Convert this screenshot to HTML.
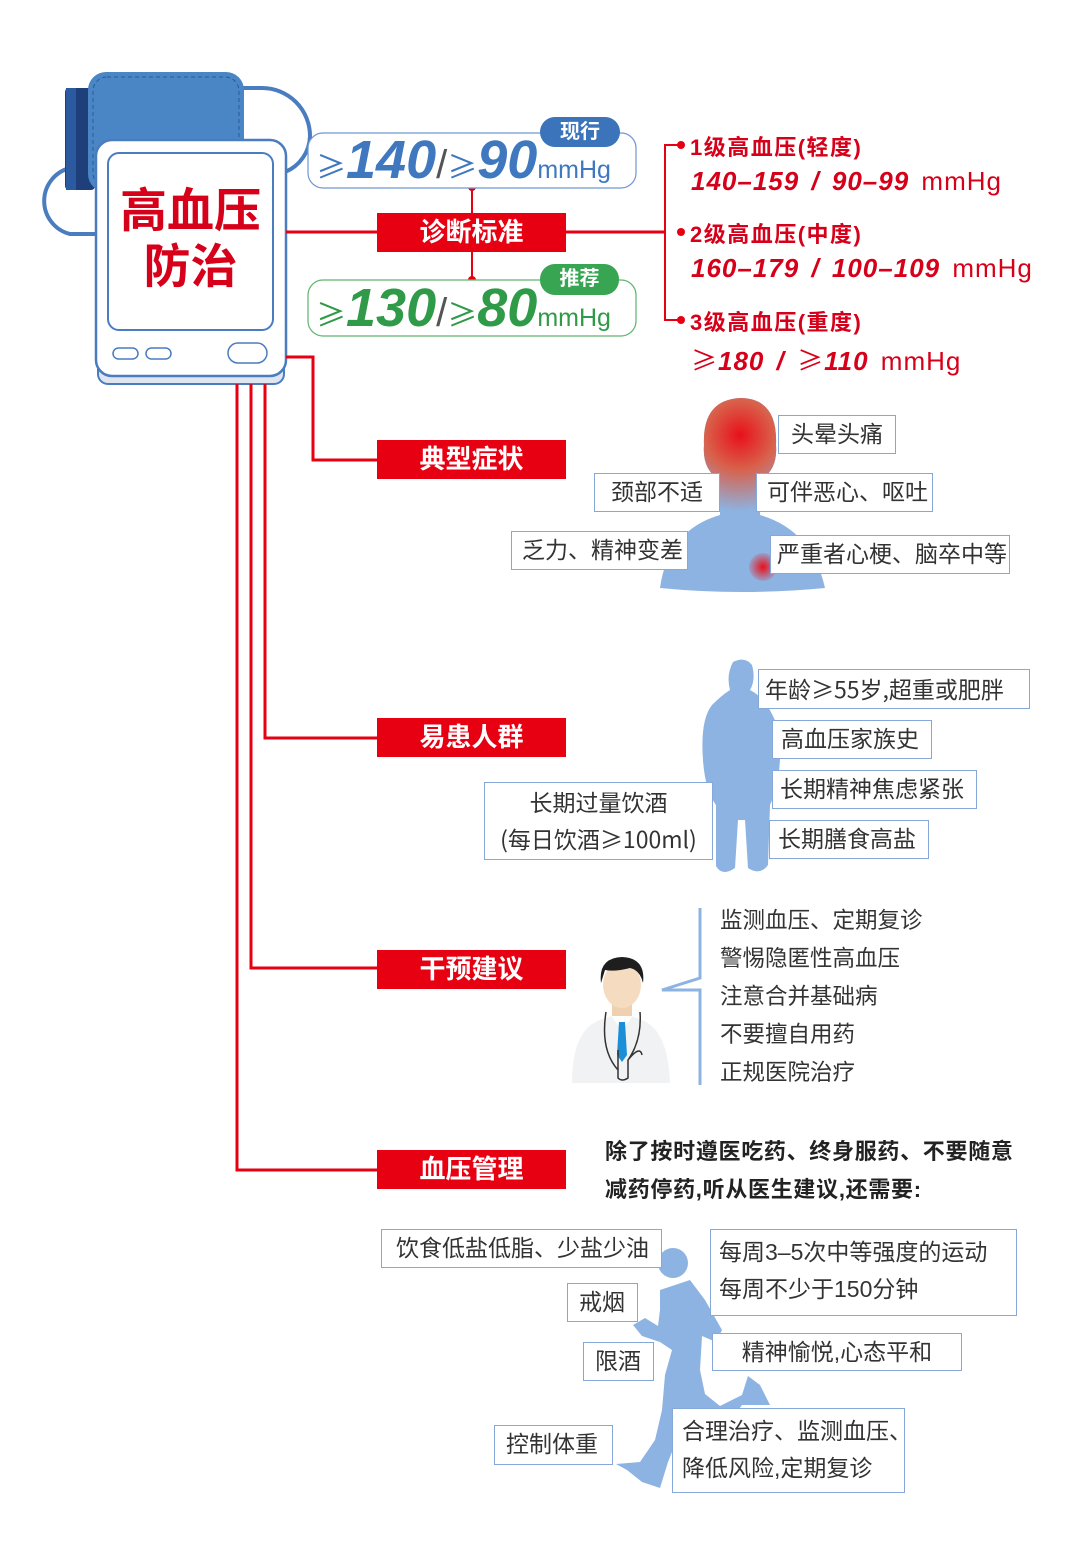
<!DOCTYPE html>
<html><head><meta charset="utf-8">
<style>
*{margin:0;padding:0;box-sizing:border-box}
body{width:1080px;height:1564px;background:#fff;position:relative;overflow:hidden;font-family:"Liberation Sans","Noto Sans CJK SC",sans-serif;color:#333}
.a{position:absolute;white-space:nowrap}
.cj{font-family:"Noto Sans CJK SC",sans-serif}
.lab{position:absolute;background:#e60012;color:#fff;font-weight:bold;font-size:26px;text-align:center;line-height:39px;width:189px;height:39px;left:377px}
.bx{position:absolute;border:1.5px solid #86a8d8;background:#fff;font-size:22px;color:#333;line-height:37px;padding:0 12px;white-space:nowrap}
.red{color:#d7001a}
.rt{font-size:22px;font-weight:bold;color:#d7001a;letter-spacing:1.5px}
.rn{font-size:26px;font-style:italic;font-weight:bold;color:#d7001a;letter-spacing:1px;word-spacing:4px}
.rn span{font-style:normal;font-weight:normal}
.lcd{font-style:italic;font-weight:bold;font-size:54px;letter-spacing:0px}
.ge{font-family:"Noto Sans CJK SC",sans-serif;font-size:30px}
</style></head><body>
<svg class="a" style="left:0;top:0" width="1080" height="1564" viewBox="0 0 1080 1564">
<defs>
<radialGradient id="hg" cx="740" cy="435" r="85" gradientUnits="userSpaceOnUse">
<stop offset="0" stop-color="#e8101a"/><stop offset="0.4" stop-color="#d9604a"/><stop offset="0.9" stop-color="#8db3e2"/></radialGradient>
<radialGradient id="cg" cx="763" cy="567" r="16" gradientUnits="userSpaceOnUse">
<stop offset="0" stop-color="#e8101a"/><stop offset="1" stop-color="#8db3e2"/></radialGradient>
</defs>
<path d="M240 88 H262 A48 48 0 0 1 310 136 A40 40 0 0 1 285 172" fill="none" stroke="#4a7cc0" stroke-width="4"/>
<path d="M100 168 H70 A34 34 0 0 0 70 234 H100" fill="none" stroke="#4a7cc0" stroke-width="4"/>
<rect x="65" y="88" width="30" height="102" rx="4" fill="#1f3f7a"/>
<rect x="66" y="88" width="10" height="102" fill="#2b5aa0"/>
<rect x="88" y="72" width="156" height="120" rx="18" fill="#4a86c5"/>
<rect x="93" y="77" width="146" height="110" rx="14" fill="none" stroke="#2b5a95" stroke-dasharray="4 3"/>
<rect x="98" y="356" width="186" height="28" rx="10" fill="#dfe6f0" stroke="#4a7cc0" stroke-width="2"/>
<rect x="96" y="140" width="190" height="236" rx="16" fill="#fff" stroke="#4a7cc0" stroke-width="2.5"/>
<rect x="108" y="153" width="165" height="177" rx="11" fill="#fff" stroke="#4a7cc0" stroke-width="2"/>
<rect x="113" y="348" width="25" height="11" rx="5.5" fill="none" stroke="#4a7cc0" stroke-width="1.5"/>
<rect x="146" y="348" width="25" height="11" rx="5.5" fill="none" stroke="#4a7cc0" stroke-width="1.5"/>
<rect x="228" y="343" width="39" height="20" rx="10" fill="none" stroke="#4a7cc0" stroke-width="1.5"/>
<g stroke="#e60012" stroke-width="3" fill="none">
<path d="M286 232 H377"/><path d="M566 232 H665"/>
<path d="M472 187 V280" stroke-width="2"/>
<path d="M680 145 H665 V320 H680" stroke-width="2"/>
<path d="M286 357 H313 V460 H377"/>
<path d="M265 384 V738 H377"/>
<path d="M251 384 V968 H377"/>
<path d="M237 384 V1170 H377"/>
</g>
<g fill="#e60012"><circle cx="472" cy="187" r="4"/><circle cx="472" cy="280" r="4"/>
<circle cx="681" cy="145" r="4"/><circle cx="681" cy="232" r="4"/><circle cx="681" cy="320" r="4"/></g>
<rect x="308" y="133" width="328" height="55" rx="15" fill="#fff" stroke="#6f97d2" stroke-width="1.2"/>
<rect x="540" y="117" width="80" height="30" rx="15" fill="#3b74bb"/>
<rect x="308" y="280" width="328" height="56" rx="15" fill="#fff" stroke="#5db56e" stroke-width="1.2"/>
<rect x="540" y="264" width="79" height="31" rx="15" fill="#37a552"/>
<path d="M660 588 Q668 530 720 515 V480 Q702 470 704 445 Q702 400 740 398 Q778 398 776 445 Q778 470 760 480 V515 Q812 530 825 588 Q742 596 660 588Z" fill="#8db3e2"/>
<path d="M720 522 V480 Q702 470 704 445 Q702 400 740 398 Q778 398 776 445 Q778 470 760 480 V522Z" fill="url(#hg)"/>
<circle cx="763" cy="567" r="14" fill="url(#cg)"/>
<path d="M733 662 Q745 656 752 665 Q756 680 750 690 Q770 700 780 735 Q782 780 770 805 L768 865 Q760 876 748 868 L745 820 L738 820 L735 868 Q722 877 716 866 L716 805 Q705 790 703 760 Q700 720 712 705 Q722 695 730 690 Q726 675 733 662Z" fill="#8db3e2"/>
<path d="M572 1083 Q572 1030 600 1020 L622 1012 L642 1020 Q668 1030 670 1083Z" fill="#f1f2f3"/>
<path d="M608 1012 L622 1030 L636 1012Z" fill="#fff"/>
<path d="M619 1022 L625 1022 L627 1055 L622 1062 L617 1055Z" fill="#1a8fd8"/>
<path d="M606 1012 Q600 1050 618 1070 M640 1012 Q642 1040 628 1060 L628 1078 Q622 1082 618 1078 L618 1050 M628 1060 Q640 1045 642 1055" fill="none" stroke="#333" stroke-width="1.5"/>
<rect x="612" y="1002" width="20" height="14" fill="#efd0b0"/>
<ellipse cx="622" cy="985" rx="19" ry="23" fill="#f5dcc0"/>
<path d="M601 983 Q598 958 622 957 Q646 958 643 983 Q640 970 630 968 Q615 972 605 970Z" fill="#1e1e1e"/>
<path d="M700 908 V978 L662 990 H700 V1085" fill="none" stroke="#8db3e2" stroke-width="3"/>
<circle cx="673" cy="1263" r="15" fill="#8db3e2"/>
<path d="M660 1290 L690 1280 L705 1300 L722 1330 L716 1342 L702 1336 L700 1370 L705 1394 L720 1406 L742 1395 L748 1376 L760 1385 L770 1405 L742 1405 L726 1427 L705 1422 L690 1410 L680 1432 L668 1462 L660 1488 L642 1482 L627 1470 L616 1464 L640 1462 L655 1440 L662 1410 L665 1375 L672 1350 L660 1342 L642 1336 L633 1325 L645 1318 L658 1326 L660 1310Z" fill="#8db3e2"/>
</svg>

<div class="a red" style="left:108px;top:183px;width:165px;text-align:center;font-size:47px;font-weight:bold;line-height:56px">高血压<br>防治</div>

<div class="a" style="left:316px;top:132px;color:#3f78bf;height:56px;line-height:56px"><span class="ge">≥</span><span class="lcd">140</span><span style="font-size:40px;color:#555;font-weight:100">/</span><span class="ge">≥</span><span class="lcd">90</span><span style="font-size:25px">mmHg</span></div>
<div class="a" style="left:540px;top:117px;width:80px;text-align:center;color:#fff;font-weight:bold;font-size:20px;line-height:30px">现行</div>
<div class="a" style="left:316px;top:280px;color:#2f9a48;height:56px;line-height:56px"><span class="ge">≥</span><span class="lcd">130</span><span style="font-size:40px;color:#555;font-weight:100">/</span><span class="ge">≥</span><span class="lcd">80</span><span style="font-size:25px">mmHg</span></div>
<div class="a" style="left:540px;top:264px;width:79px;text-align:center;color:#fff;font-weight:bold;font-size:20px;line-height:31px">推荐</div>

<div class="lab" style="top:213px">诊断标准</div>
<div class="lab" style="top:440px">典型症状</div>
<div class="lab" style="top:718px">易患人群</div>
<div class="lab" style="top:950px">干预建议</div>
<div class="lab" style="top:1150px">血压管理</div>

<div class="a rt" style="left:690px;top:130px">1级高血压(轻度)</div>
<div class="a rn" style="left:691px;top:166px">140–159 / 90–99 <span>mmHg</span></div>
<div class="a rt" style="left:690px;top:217px">2级高血压(中度)</div>
<div class="a rn" style="left:691px;top:253px">160–179 / 100–109 <span>mmHg</span></div>
<div class="a rt" style="left:690px;top:305px">3级高血压(重度)</div>
<div class="a rn" style="left:691px;top:341px"><span class="cj">≥</span>180 / <span class="cj">≥</span>110 <span>mmHg</span></div>

<div class="bx" style="left:778px;top:415px;height:39px;width:118px;font-size:23px">头晕头痛</div>
<div class="bx" style="left:594px;top:473px;height:39px;width:126px;text-align:center;font-size:23px">颈部不适</div>
<div class="bx" style="left:756px;top:473px;height:39px;width:177px;padding:0 10px;font-size:23px">可伴恶心、呕吐</div>
<div class="bx" style="left:511px;top:531px;height:39px;width:177px;padding:0 10px;font-size:23px">乏力、精神变差</div>
<div class="bx" style="left:770px;top:535px;height:39px;width:240px;padding:0 6px;font-size:23px">严重者心梗、脑卒中等</div>

<div class="bx cj" style="left:758px;top:669px;height:40px;width:272px;padding:0 6px;font-size:23px">年龄≥55岁,超重或肥胖</div>
<div class="bx" style="left:772px;top:720px;height:39px;width:160px;padding:0 8px;font-size:23px">高血压家族史</div>
<div class="bx" style="left:772px;top:770px;height:39px;width:205px;padding:0 7px;font-size:23px">长期精神焦虑紧张</div>
<div class="bx" style="left:769px;top:820px;height:39px;width:160px;padding:0 8px;font-size:23px">长期膳食高盐</div>
<div class="bx cj" style="left:484px;top:782px;width:229px;height:78px;text-align:center;padding:0;font-size:23px;line-height:37px">长期过量饮酒<br>(每日饮酒≥100ml)</div>

<div class="a" style="left:720px;top:902px;font-size:22.5px;line-height:38px;color:#333">监测血压、定期复诊<br>警惕隐匿性高血压<br>注意合并基础病<br>不要擅自用药<br>正规医院治疗</div>

<div class="a" style="left:605px;top:1133px;font-size:22px;letter-spacing:0.7px;line-height:38px;color:#222;font-weight:bold">除了按时遵医吃药、终身服药、不要随意<br>减药停药,听从医生建议,还需要:</div>
<div class="bx" style="left:381px;top:1229px;height:39px;width:281px;padding:0 14px;font-size:23px">饮食低盐低脂、少盐少油</div>
<div class="bx" style="left:567px;top:1283px;height:39px;width:71px;padding:0 11px;font-size:23px">戒烟</div>
<div class="bx" style="left:583px;top:1342px;height:39px;width:71px;padding:0 11px;font-size:23px">限酒</div>
<div class="bx" style="left:494px;top:1425px;height:40px;width:119px;padding:0 11px;font-size:23px">控制体重</div>
<div class="bx" style="left:710px;top:1229px;width:307px;height:87px;padding:4px 8px;font-size:23px">每周3–5次中等强度的运动<br>每周不少于150分钟</div>
<div class="bx" style="left:712px;top:1333px;width:250px;height:38px;text-align:center;font-size:23px">精神愉悦,心态平和</div>
<div class="bx" style="left:672px;top:1408px;width:233px;height:85px;padding:4px 9px;font-size:23px">合理治疗、监测血压、<br>降低风险,定期复诊</div>
</body></html>
